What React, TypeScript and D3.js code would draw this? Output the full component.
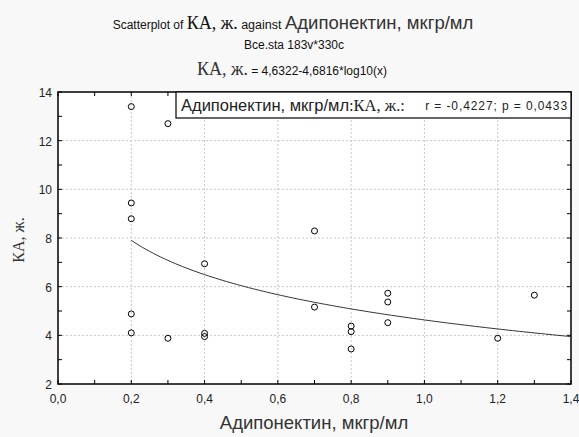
import React, { useRef, useEffect } from 'react';
import * as d3 from 'd3';

// Адипонектин values (x) and КА, ж. values (y)
const xValues = [0.2, 0.2, 0.2, 0.2, 0.2, 0.3, 0.3, 0.4, 0.4, 0.4, 0.7, 0.7, 0.8, 0.8, 0.8, 0.9, 0.9, 0.9, 1.2, 1.3];
const yValues = [13.4, 9.44, 8.79, 4.88, 4.1, 12.7, 3.88, 6.94, 4.08, 3.95, 8.29, 5.16, 4.38, 4.15, 3.44, 5.73, 5.37, 4.52, 3.88, 5.65];
const xTicks = [0, 0.2, 0.4, 0.6, 0.8, 1.0, 1.2, 1.4];
const yTicks = [2, 4, 6, 8, 10, 12, 14];
const fitA = 4.6322;
const fitB = -4.6816;

const sans = 'Arial, "Liberation Sans", sans-serif';
const serif = '"Times New Roman", "Liberation Serif", serif';

const App = () => {
  const svgRef = useRef<SVGSVGElement>(null);

  useEffect(() => {
    const svg = d3.select(svgRef.current);
    svg.selectAll('*').remove();

    const width = 579;
    const height = 437;
    const margin = { top: 92, right: 8, bottom: 53, left: 58 };
    const innerWidth = width - margin.left - margin.right;
    const innerHeight = height - margin.top - margin.bottom;

    svg.append('rect').attr('width', width).attr('height', height).attr('fill', '#f8f8f8');

    const x = d3.scaleLinear().domain([0, 1.4]).range([0, innerWidth]);
    const y = d3.scaleLinear().domain([2, 14]).range([innerHeight, 0]);
    const fmt = (d: number) => d3.format('.1f')(d).replace('.', ',');

    const g = svg.append('g').attr('transform', `translate(${margin.left},${margin.top})`);

    g.append('rect').attr('width', innerWidth).attr('height', innerHeight).attr('fill', '#fff');

    // dashed grid
    g.selectAll('.vgrid')
      .data(xTicks.slice(1, -1))
      .enter().append('line')
      .attr('x1', d => x(d)).attr('x2', d => x(d))
      .attr('y1', 0).attr('y2', innerHeight)
      .attr('stroke', '#c8c8c8').attr('stroke-dasharray', '2,2');
    g.selectAll('.hgrid')
      .data(yTicks.slice(1, -1))
      .enter().append('line')
      .attr('x1', 0).attr('x2', innerWidth)
      .attr('y1', d => y(d)).attr('y2', d => y(d))
      .attr('stroke', '#c8c8c8').attr('stroke-dasharray', '2,2');

    // inner ticks on all four sides
    const xMinor = d3.range(0, 1.41, 0.1);
    const yMinor = d3.range(2, 14.01, 1);
    const tick = 4;
    [0, innerHeight].forEach(yy => {
      g.selectAll(null).data(xMinor).enter().append('line')
        .attr('x1', d => x(d)).attr('x2', d => x(d))
        .attr('y1', yy).attr('y2', yy === 0 ? tick : yy - tick)
        .attr('stroke', '#000');
    });
    [0, innerWidth].forEach(xx => {
      g.selectAll(null).data(yMinor).enter().append('line')
        .attr('y1', d => y(d)).attr('y2', d => y(d))
        .attr('x1', xx).attr('x2', xx === 0 ? tick : xx - tick)
        .attr('stroke', '#000');
    });

    g.append('rect').attr('width', innerWidth).attr('height', innerHeight)
      .attr('fill', 'none').attr('stroke', '#000').attr('stroke-width', 1.5);

    // tick labels
    g.selectAll('.xl').data(xTicks).enter().append('text')
      .attr('x', d => x(d)).attr('y', innerHeight + 19)
      .attr('text-anchor', 'middle')
      .style('font-family', sans).style('font-size', '12px').attr('fill', '#222')
      .text(d => fmt(d));
    g.selectAll('.yl').data(yTicks).enter().append('text')
      .attr('x', -6).attr('y', d => y(d) + 5)
      .attr('text-anchor', 'end')
      .style('font-family', sans).style('font-size', '12px').attr('fill', '#222')
      .text(d => d);

    // fit curve
    const curve = d3.range(0.2, 1.4001, 0.01).map(v => [v, fitA + fitB * Math.log10(v)] as [number, number]);
    g.append('path')
      .datum(curve)
      .attr('d', d3.line<[number, number]>().x(d => x(d[0])).y(d => y(d[1])))
      .attr('fill', 'none').attr('stroke', '#333').attr('stroke-width', 1);

    // points
    g.selectAll('.pt').data(xValues).enter().append('circle')
      .attr('cx', d => x(d)).attr('cy', (d, i) => y(yValues[i]))
      .attr('r', 3).attr('fill', 'none').attr('stroke', '#000').attr('stroke-width', 1);

    // legend box
    g.append('rect')
      .attr('x', 118).attr('y', 0).attr('width', innerWidth - 118).attr('height', 26)
      .attr('fill', '#fff').attr('stroke', '#000').attr('stroke-width', 1.2);
    const lg = g.append('text').attr('x', 123).attr('y', 19).attr('fill', '#222');
    lg.append('tspan').style('font-family', sans).style('font-size', '16.5px').text('Адипонектин, мкгр/мл');
    lg.append('tspan').style('font-family', serif).style('font-size', '16.5px').text(':КА, ж.:');
    g.append('text').attr('x', innerWidth - 3).attr('y', 18).attr('text-anchor', 'end').attr('fill', '#222')
      .style('font-family', sans).style('font-size', '12px').style('letter-spacing', '0.9px')
      .text('r = -0,4227; p = 0,0433');

    // titles
    const t1 = svg.append('text').attr('x', 293).attr('y', 29).attr('text-anchor', 'middle').attr('fill', '#111');
    t1.append('tspan').style('font-family', sans).style('font-size', '12px').text('Scatterplot of ');
    t1.append('tspan').style('font-family', serif).style('font-size', '18px').text('КА, ж.');
    t1.append('tspan').style('font-family', sans).style('font-size', '12.5px').text(' against ');
    t1.append('tspan').style('font-family', sans).style('font-size', '18.5px').attr('fill', '#333').text('Адипонектин, мкгр/мл');

    svg.append('text').attr('x', 294).attr('y', 49).attr('text-anchor', 'middle')
      .style('font-family', sans).style('font-size', '12px').attr('fill', '#111')
      .text('Bce.sta 183v*330c');

    const t3 = svg.append('text').attr('x', 292).attr('y', 75).attr('text-anchor', 'middle').attr('fill', '#111');
    t3.append('tspan').style('font-family', serif).style('font-size', '18px').attr('fill', '#333').text('КА, ж.');
    t3.append('tspan').style('font-family', sans).style('font-size', '12px').text(' = 4,6322-4,6816*log10(x)');

    // axis titles
    svg.append('text').attr('x', 314).attr('y', 429).attr('text-anchor', 'middle')
      .style('font-family', sans).style('font-size', '18.5px').attr('fill', '#333')
      .text('Адипонектин, мкгр/мл');
    svg.append('text')
      .attr('transform', `translate(24,${margin.top + innerHeight / 2 + 2}) rotate(-90)`)
      .attr('text-anchor', 'middle')
      .style('font-family', serif).style('font-size', '16px').attr('fill', '#333')
      .text('КА, ж.');
  }, []);

  return <svg ref={svgRef} width={579} height={437} style={{ position: 'absolute', left: 0, top: 0 }}></svg>;
};

export default App;
